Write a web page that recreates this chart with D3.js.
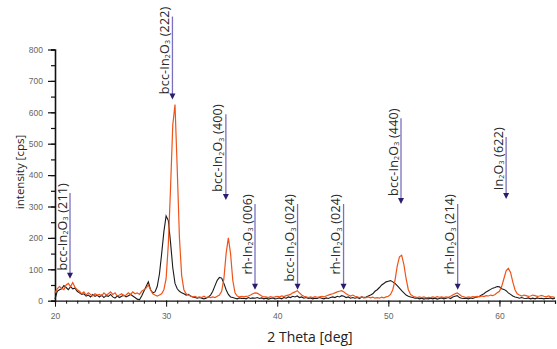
<!DOCTYPE html>
<html>
<head>
<meta charset="utf-8">
<script src="https://cdn.jsdelivr.net/npm/d3@7"></script>
<style>
  body { margin: 0; background: #fff; }
  svg { display: block; }
</style>
</head>
<body>
<div id="chart"></div>
<script>
// 2 theta grid: 20.0 .. 65.0 in 0.2 deg steps
var thetaStart = 20, thetaStep = 0.2;

var blackCounts = [
  5, 30, 35, 38, 48,   42, 35, 45, 38, 40,   30, 25, 20, 22, 15,
  18, 12, 20, 14, 17,  12, 18, 10, 16, 14,   20, 12, 8, 15, 10,
  14, 18, 12, 16, 20,  15, 10, 5, 3, 15,     30, 45, 60, 35, 25,
  28, 45, 85, 150, 220, 270, 255, 185, 105, 55, 38, 30, 25, 22, 18,
  20, 15, 12, 10, 8,   10, 8, 6, 8, 12,      18, 30, 48, 65, 74,
  72, 55, 35, 20, 12,  10, 8, 6, 9, 7,       8, 6, 10, 7, 9,
  8, 10, 7, 9, 6,      8, 5, 7, 9, 6,        7, 9, 6, 10, 8,
  12, 10, 14, 12, 15,  10, 12, 8, 10, 7,     9, 6, 8, 7, 10,
  8, 6, 9, 7, 10,      12, 10, 14, 12, 16,   14, 10, 12, 8, 10,
  8, 10, 7, 12, 10,    12, 15, 18, 22, 30,   35, 42, 50, 55, 60,
  62, 64, 60, 55, 48,  40, 32, 25, 18, 14,   12, 10, 8, 9, 6,
  8, 5, 7, 6, 8,       6, 8, 5, 7, 9,        6, 8, 10, 7, 12,
  14, 16, 10, 8, 7,    8, 6, 9, 7, 10,       12, 14, 18, 22, 28,
  32, 36, 40, 42, 45,  44, 38, 36, 32, 25,   20, 15, 12, 10, 8,
  10, 8, 7, 9, 6,      8, 6, 9, 7, 8,        6, 8, 7, 9, 6,
  8
];

var orangeCounts = [
  25, 38, 45, 40, 35,  50, 55, 45, 58, 42,   35, 30, 22, 28, 18,
  25, 20, 15, 22, 18,  20, 15, 25, 18, 22,   28, 20, 25, 15, 18,
  22, 15, 18, 25, 20,  28, 22, 25, 20, 30,   35, 40, 50, 35, 22,
  18, 15, 18, 22, 35,  70, 180, 360, 560, 625, 420, 200, 80, 35, 22,
  18, 15, 12, 14, 10,  12, 10, 14, 10, 12,   10, 12, 10, 14, 18,
  30, 70, 150, 200, 150, 65, 25, 15, 12, 14, 12, 14, 15, 18, 22,
  25, 24, 20, 15, 12,  12, 10, 13, 11, 12,   14, 12, 15, 13, 16,
  18, 20, 25, 28, 32,  25, 18, 14, 12, 10,   12, 10, 13, 11, 12,
  14, 12, 15, 18, 20,  22, 25, 28, 30, 32,   28, 22, 18, 15, 18,
  14, 12, 10, 12, 9,   10, 12, 9, 11, 8,     10, 8, 11, 9, 12,
  14, 20, 35, 65, 110, 140, 145, 115, 70, 35, 20, 15, 12, 10, 12,
  10, 12, 9, 11, 10,   12, 10, 13, 11, 12,   10, 12, 11, 14, 18,
  22, 25, 20, 14, 12,  10, 12, 11, 13, 12,   14, 12, 15, 13, 16,
  15, 18, 16, 20, 25,  30, 45, 70, 95, 103,  90, 60, 35, 22, 18,
  15, 18, 16, 14, 15,  18, 16, 14, 15, 17,   14, 12, 15, 13, 12,
  10
];

// reflection markers: phase, hkl, 2theta, arrow top / tip (cps)
var peakPhase = ["bcc-", "bcc-", "bcc-", "rh-", "bcc-", "rh-", "bcc-", "rh-", ""];
var peakHkl   = ["(211)", "(222)", "(400)", "(006)", "(024)", "(024)", "(440)", "(214)", "(622)"];
var peakTheta = [21.35, 30.57, 35.38, 38.0, 41.83, 45.97, 51.14, 56.24, 60.6];
var peakTop   = [343, 905, 594, 308, 308, 308, 581, 308, 521];
var peakTip   = [70, 641, 321, 35, 35, 35, 308, 35, 324];

var xTicks = [20, 30, 40, 50, 60];
var yTicks = [0, 100, 200, 300, 400, 500, 600, 700, 800];

var svgWidth = 557, svgHeight = 349;
var margin = { top: 49.5, right: 2, bottom: 48.3, left: 55 };
var width = svgWidth - margin.left - margin.right;
var height = svgHeight - margin.top - margin.bottom;

var svg = d3.select("#chart").append("svg")
    .attr("width", svgWidth)
    .attr("height", svgHeight);

var chart = svg.append("g")
    .attr("transform", `translate(${margin.left}, ${margin.top})`);

var x = d3.scaleLinear().domain([20, 65]).range([0, width]);
var y = d3.scaleLinear().domain([0, 800]).range([height, 0]);

// axes
var xAxisG = chart.append("g")
    .attr("transform", `translate(0, ${height})`)
    .call(d3.axisBottom(x).ticks(45).tickSize(3).tickFormat(""));
xAxisG.select(".domain").attr("stroke", "#111").attr("stroke-width", 1.2);
xAxisG.selectAll(".tick line").attr("stroke", "#111");

var xMajor = chart.append("g")
    .attr("transform", `translate(0, ${height})`)
    .call(d3.axisBottom(x).tickValues(xTicks).tickSize(6).tickPadding(6));
xMajor.select(".domain").remove();
xMajor.selectAll(".tick line").attr("stroke", "#111");
xMajor.selectAll("text")
    .attr("fill", "#666")
    .style("font-family", "Liberation Sans, Arial, sans-serif")
    .style("font-size", "8.5px");

var yAxisG = chart.append("g")
    .call(d3.axisLeft(y).ticks(16).tickSize(4).tickFormat(""));
yAxisG.select(".domain").attr("stroke", "#111").attr("stroke-width", 1.6);
yAxisG.selectAll(".tick line").attr("stroke", "#111").attr("stroke-width", 1.2);

var yMajor = chart.append("g")
    .call(d3.axisLeft(y).tickValues(yTicks).tickSize(7).tickPadding(5));
yMajor.select(".domain").remove();
yMajor.selectAll(".tick line").attr("stroke", "#111").attr("stroke-width", 1.2);
yMajor.selectAll("text")
    .attr("fill", "#666")
    .style("font-family", "Liberation Sans, Arial, sans-serif")
    .style("font-size", "8.5px");

// axis titles
svg.append("text")
    .attr("x", 310)
    .attr("y", 342)
    .attr("text-anchor", "middle")
    .attr("fill", "#222")
    .style("font-family", "Open Sans, sans-serif")
    .style("font-size", "14px")
    .text("2 Theta [deg]");

svg.append("text")
    .attr("transform", "translate(24, 172) rotate(-90)")
    .attr("text-anchor", "middle")
    .attr("fill", "#222")
    .style("font-family", "Open Sans, sans-serif")
    .style("font-size", "11.5px")
    .text("intensity [cps]");

// patterns
var line = d3.line()
    .x((d, i) => x(thetaStart + i * thetaStep))
    .y(d => y(d));

chart.append("path")
    .datum(blackCounts)
    .attr("fill", "none")
    .attr("stroke", "#1a1a1a")
    .attr("stroke-width", 1.1)
    .attr("d", line);

chart.append("path")
    .datum(orangeCounts)
    .attr("fill", "none")
    .attr("stroke", "#ee5419")
    .attr("stroke-width", 1.2)
    .attr("d", line);

// reflection markers
var markers = chart.selectAll(".marker")
    .data(peakTheta)
    .enter()
    .append("g")
    .attr("class", "marker");

markers.append("line")
    .attr("x1", d => x(d))
    .attr("x2", d => x(d))
    .attr("y1", (d, i) => y(peakTop[i]))
    .attr("y2", (d, i) => y(peakTip[i]) - 4)
    .attr("stroke", "#7b70bd")
    .attr("stroke-width", 1.3);

markers.append("path")
    .attr("d", (d, i) => {
        var px = x(d), py = y(peakTip[i]);
        return `M${px - 3},${py - 6}L${px + 3},${py - 6}L${px},${py}Z`;
    })
    .attr("fill", "#2b1d6b");

var labels = markers.append("text")
    .attr("transform", (d, i) => `translate(${x(d) - 3.5}, ${y(peakTop[i]) - 10}) rotate(-90)`)
    .attr("text-anchor", "end")
    .attr("fill", "#2a2a2a")
    .style("font-family", "Open Sans, sans-serif")
    .style("font-size", "12.5px")
    .style("letter-spacing", "0.2px");

labels.append("tspan").text((d, i) => peakPhase[i] + "In");
labels.append("tspan").attr("dy", 1.5).style("font-size", "7px").text("2");
labels.append("tspan").attr("dy", -1.5).text("O");
labels.append("tspan").attr("dy", 1.5).style("font-size", "7px").text("3");
labels.append("tspan").attr("dy", -1.5).text((d, i) => " " + peakHkl[i]);
</script>
</body>
</html>
